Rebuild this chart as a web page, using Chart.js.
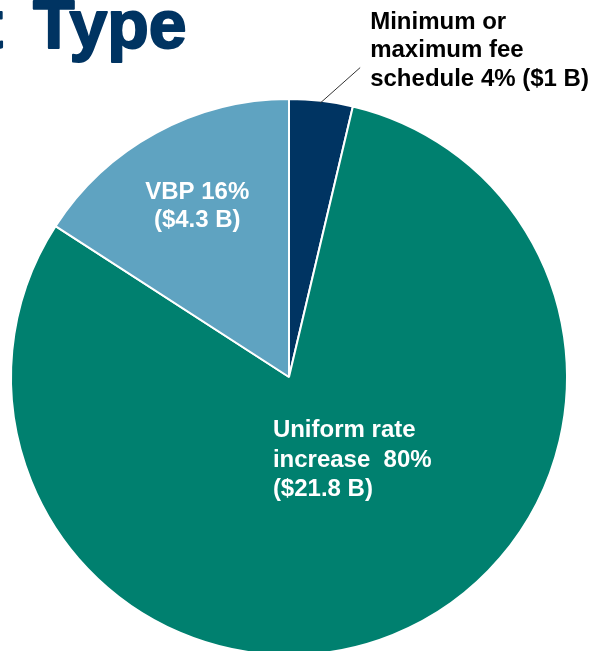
<!DOCTYPE html>
<html>
<head>
<meta charset="utf-8">
<script src="https://cdn.jsdelivr.net/npm/chart.js@4.4.0/dist/chart.umd.min.js"></script>
<style>
  html, body { margin: 0; padding: 0; background: #fff; overflow: hidden; }
  #wrap { width: 595px; height: 660px; position: relative; }
</style>
</head>
<body>
<div id="wrap"><canvas id="myChart" width="595" height="660"></canvas></div>
<script>
// payment type split, $ billions
const categories = ["Minimum or maximum fee schedule", "Uniform rate increase", "VBP"];
const amounts = [1, 21.8, 4.3];
const percents = ["4%", "80%", "16%"];
const sliceColors = ["#003462", "#00806f", "#5fa3c1"];

// text lines for each slice label
const labelLines = [
    ["Minimum or", "maximum fee", "schedule " + percents[0] + " ($" + amounts[0] + " B)"],
    ["Uniform rate", "increase  " + percents[1], "($" + amounts[1] + " B)"],
    ["VBP " + percents[2], "($" + amounts[2] + " B)"]
];

const labelPlugin = {
    id: "sliceLabels",
    afterDraw(chart) {
        const ctx = chart.ctx;
        const arcs = chart.getDatasetMeta(0).data;
        const cx = arcs[0].x, cy = arcs[0].y, r = arcs[0].outerRadius;
        ctx.save();

        // title (cut off on the left like the source)
        ctx.fillStyle = "#003462";
        ctx.strokeStyle = "#003462";
        ctx.lineWidth = 2;
        ctx.lineJoin = "round";
        ctx.font = "bold 68px 'Liberation Sans', Arial, sans-serif";
        ctx.textBaseline = "alphabetic";
        ctx.textAlign = "right";
        ctx.fillText("Payment", 3, 48);
        ctx.strokeText("Payment", 3, 48);
        ctx.textAlign = "left";
        ctx.fillText("Type", 33, 48);
        ctx.strokeText("Type", 33, 48);

        ctx.font = "bold 24px 'Liberation Sans', Arial, sans-serif";

        // minimum / maximum fee schedule - outside with leader line
        ctx.fillStyle = "#000";
        ctx.textAlign = "left";
        labelLines[0].forEach((t, i) => ctx.fillText(t, cx + r * 0.292, cy - r * 1.253 + i * 28.5));
        ctx.strokeStyle = "#333";
        ctx.lineWidth = 1;
        ctx.beginPath();
        ctx.moveTo(cx + r * 0.256, cy - r * 1.113);
        ctx.lineTo(cx + r * 0.112, cy - r * 0.985);
        ctx.stroke();

        // uniform rate increase
        ctx.fillStyle = "#fff";
        labelLines[1].forEach((t, i) => ctx.fillText(t, cx - r * 0.058, cy + r * 0.217 + i * 29.5));

        // VBP
        ctx.textAlign = "center";
        labelLines[2].forEach((t, i) => ctx.fillText(t, cx - r * 0.33, cy - r * 0.639 + i * 28));

        ctx.restore();
    }
};

const ctx = document.getElementById("myChart").getContext("2d");
const myChart = new Chart(ctx, {
    type: "pie",
    data: {
        labels: categories,
        datasets: [{
            data: amounts,
            backgroundColor: sliceColors,
            borderColor: "#fff",
            borderWidth: 2,
            hoverOffset: 0
        }]
    },
    options: {
        responsive: false,
        animation: false,
        layout: { padding: { left: 10, right: 27, top: 98, bottom: 4 } },
        plugins: {
            legend: { display: false },
            tooltip: { enabled: false },
            title: { display: false }
        }
    },
    plugins: [labelPlugin]
});
</script>
</body>
</html>
